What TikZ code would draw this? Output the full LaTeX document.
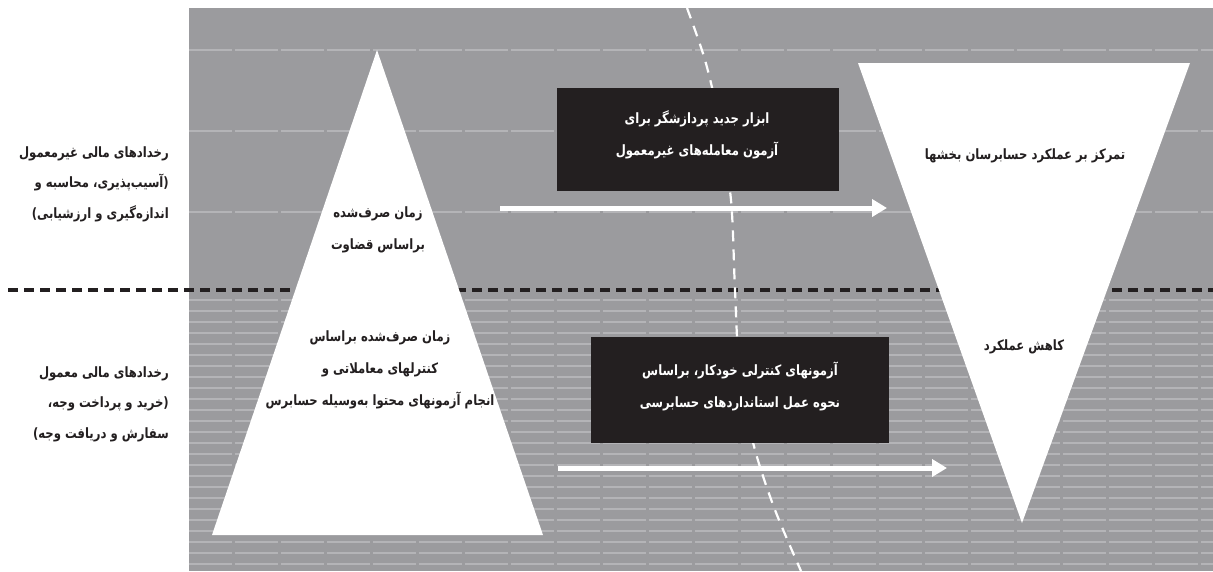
\documentclass[tikz,border=0pt]{standalone}
\usepackage{fontspec}
\usetikzlibrary{arrows.meta}
\TeXXeTstate=1
\newfontfamily\fa[Script=Arabic,FakeStretch=0.82]{DejaVu Sans}
\definecolor{bgc}{HTML}{9B9B9E}
\definecolor{gridc}{HTML}{B4B4B7}
\definecolor{boxc}{HTML}{231F20}
\definecolor{inkc}{HTML}{231F20}
\tikzset{
  fatext/.style={font=\fa\bfseries\fontsize{14.2}{32}\selectfont, text=inkc, inner sep=0pt},
  sidetext/.style={fatext, font=\fa\bfseries\fontsize{14.2}{30.5}\selectfont},
  boxtext/.style={fatext, text=white},
  blackbox/.style={fill=boxc, draw=none},
  tri/.style={fill=white, draw=none},
  gridline/.style={draw=gridc, line width=1.3pt, dash pattern=on 43pt off 3pt},
  divider/.style={draw=boxc, line width=3.5pt, dash pattern=on 10pt off 6pt},
  curveline/.style={draw=white, line width=2.2pt, dash pattern=on 11pt off 8pt},
  flow/.style={draw=white, line width=5pt, -{Triangle[length=15pt,width=17pt]}}
}
\begin{document}
\begin{tikzpicture}[x=1pt,y=-1pt]
\useasboundingbox (0,0) rectangle (1213,571);
\fill[white] (0,0) rectangle (1213,571);
\fill[bgc] (189,8) rectangle (1213,571);
% background grid
\foreach \yy in {50,131,212} \draw[gridline] (189,\yy) -- (1213,\yy);
\foreach \yy in {300,311,...,570} \draw[gridline, line width=1.1pt] (189,\yy) -- (1213,\yy);
% divider
\coordinate (dL) at (8,290);
\coordinate (dR) at (1213,290);
\draw[divider] (dL) -- (dR);
% dashed curve
\draw[curveline] plot[smooth] coordinates {(687,8) (705,60) (719,120) (731,200) (735,290) (740,380) (755,450) (775,510) (801,571)};
% triangles
\fill[tri] (377,50) -- (543,535) -- (212,535) -- cycle;
\fill[tri] (858,63) -- (1190,63) -- (1022,523) -- cycle;
% boxes
\node[blackbox, minimum width=282pt, minimum height=103pt, inner sep=0pt] (box1) at (698,139.5) {};
\node[blackbox, minimum width=298pt, minimum height=106pt, inner sep=0pt] (box2) at (740,390) {};
% arrows
\coordinate (a1s) at (500,208);
\coordinate (a1e) at (887,208);
\coordinate (a2s) at (558,468);
\coordinate (a2e) at (947,468);
\draw[flow] (a1s) -- (a1e);
\draw[flow] (a2s) -- (a2e);
% texts
\node[sidetext, align=right, anchor=east] (l1) at (169,184)
  {\beginR رخدادهای مالی غیرمعمول\endR\\\beginR (آسیب‌پذیری، محاسبه و\endR\\\beginR اندازه‌گیری و ارزشیابی)\endR};
\node[sidetext, align=right, anchor=east] (l2) at (169,404)
  {\beginR رخدادهای مالی معمول\endR\\\beginR (خرید و پرداخت وجه،\endR\\\beginR سفارش و دریافت وجه)\endR};
\node[fatext, align=center] (t1) at (378,230)
  {\beginR زمان صرف‌شده\endR\\\beginR براساس قضاوت\endR};
\node[fatext, align=center] (t2) at (380,370)
  {\beginR زمان صرف‌شده براساس\endR\\\beginR کنترلهای معاملاتی و\endR\\\beginR انجام آزمونهای محتوا به‌وسیله حسابرس\endR};
\node[boxtext, align=center] (b1) at (697,135) {\beginR ابزار جدید پردازشگر برای\endR\\\beginR آزمون معامله‌های غیرمعمول\endR};
\node[boxtext, align=center] (b2) at (740,386) {\beginR آزمونهای کنترلی خودکار، براساس\endR\\\beginR نحوه عمل استانداردهای حسابرسی\endR};
\node[fatext] (r1) at (1025,156) {\beginR تمرکز بر عملکرد حسابرسان بخشها\endR};
\node[fatext] (r2) at (1024,347) {\beginR کاهش عملکرد\endR};
\end{tikzpicture}
\end{document}
